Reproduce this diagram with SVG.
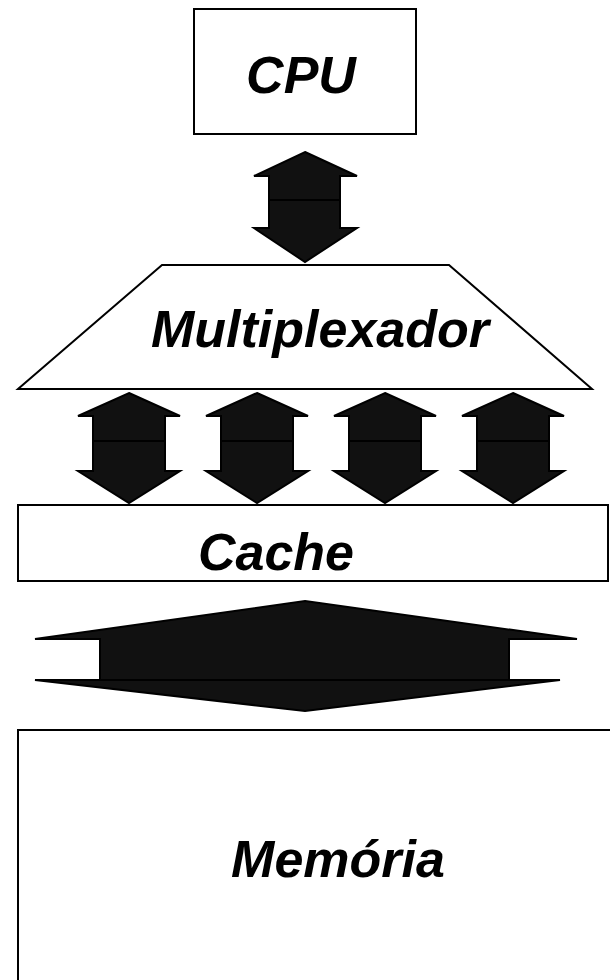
<svg xmlns="http://www.w3.org/2000/svg" width="610" height="980" viewBox="0 0 610 980">
  <style>
    .box { fill: #fff; stroke: #000; stroke-width: 2; }
    .arrow { fill: #111; stroke: #000; stroke-width: 2; stroke-linejoin: miter; }
    .label { font-family: "Liberation Sans", Arial, sans-serif; font-weight: bold; font-style: italic; font-size: 52px; fill: #000; text-anchor: middle; }
  </style>
  <defs>
    <!-- double-headed block arrow, centred on x=0, drawn as two halves meeting at the middle line -->
    <g id="lane">
      <polygon class="arrow" points="0,0 51,23 36,23 36,48 -36,48 -36,23 -51,23"/>
      <polygon class="arrow" points="-36,48 36,48 36,78 51,78 0,110 -51,78 -36,78"/>
    </g>
  </defs>
  <rect width="610" height="980" fill="#fff"/>

  <g id="cpu">
    <rect class="box" x="194" y="9" width="222" height="125"/>
    <text class="label" x="301" y="93">CPU</text>
  </g>

  <g id="multiplexador">
    <polygon class="box" points="162,265 449,265 592,389 18,389"/>
    <text class="label" x="320" y="347">Multiplexador</text>
  </g>

  <g id="cache">
    <rect class="box" x="18" y="505" width="590" height="76"/>
    <text class="label" x="276" y="570">Cache</text>
  </g>

  <g id="memoria">
    <rect class="box" x="18" y="730" width="620" height="270"/>
    <text class="label" x="338" y="877">Memória</text>
  </g>

  <g id="connectors">
    <!-- CPU <-> Multiplexador -->
    <polygon class="arrow" points="305,152 357,176 340,176 340,200 269,200 269,176 254,176"/>
    <polygon class="arrow" points="269,200 340,200 340,228 357,228 305,262 254,228 269,228"/>

    <!-- Multiplexador <-> Cache, four lanes -->
    <use href="#lane" x="129" y="393"/>
    <use href="#lane" x="257" y="393"/>
    <use href="#lane" x="385" y="393"/>
    <use href="#lane" x="513" y="393"/>

    <!-- Cache <-> Memória, wide bus -->
    <polygon class="arrow" points="305,601 577,639 509,639 509,680 100,680 100,639 35,639"/>
    <polygon class="arrow" points="35,680 560,680 305,711"/>
  </g>
</svg>
